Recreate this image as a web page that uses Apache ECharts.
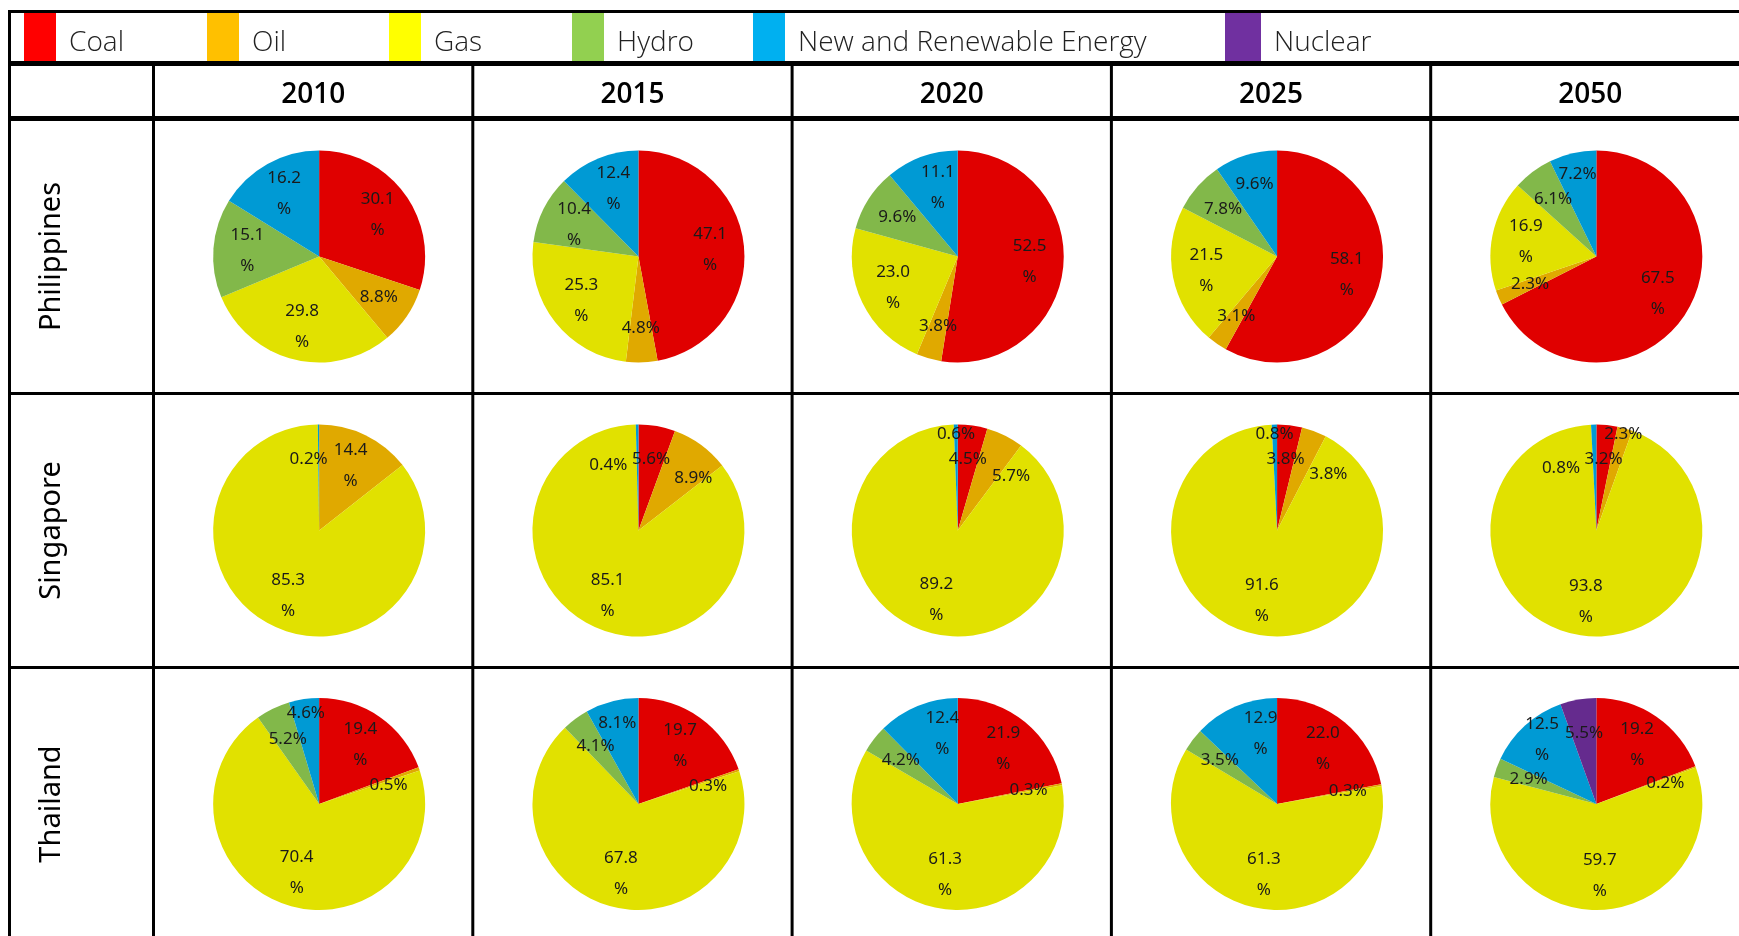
<!DOCTYPE html>
<html>
<head>
<meta charset="utf-8">
<script src="https://cdn.jsdelivr.net/npm/echarts@6/dist/echarts.min.js"></script>
<style>
  html, body { margin: 0; padding: 0; background: #fff; }
  #chart { width: 1739px; height: 936px; }
</style>
</head>
<body>
<div id="chart"></div>
<script>
// ---- data -------------------------------------------------------------
const years = ['2010', '2015', '2020', '2025', '2050'];
const countries = ['Philippines', 'Singapore', 'Thailand'];
const fuels = ['Coal', 'Oil', 'Gas', 'Hydro', 'New and Renewable Energy', 'Nuclear'];

// Power generation mix (%), one row per year, columns in the order of `fuels`
const philippinesShare = [
  [30.1, 8.8, 29.8, 15.1, 16.2, 0],
  [47.1, 4.8, 25.3, 10.4, 12.4, 0],
  [52.5, 3.8, 23.0, 9.6, 11.1, 0],
  [58.1, 3.1, 21.5, 7.8, 9.6, 0],
  [67.5, 2.3, 16.9, 6.1, 7.2, 0]
];
const singaporeShare = [
  [0, 14.4, 85.3, 0, 0.2, 0],
  [5.6, 8.9, 85.1, 0, 0.4, 0],
  [4.5, 5.7, 89.2, 0, 0.6, 0],
  [3.8, 3.8, 91.6, 0, 0.8, 0],
  [3.2, 2.3, 93.8, 0, 0.8, 0]
];
const thailandShare = [
  [19.4, 0.5, 70.4, 5.2, 4.6, 0],
  [19.7, 0.3, 67.8, 4.1, 8.1, 0],
  [21.9, 0.3, 61.3, 4.2, 12.4, 0],
  [22.0, 0.3, 61.3, 3.5, 12.9, 0],
  [19.2, 0.2, 59.7, 2.9, 12.5, 5.5]
];
const shareByCountry = [philippinesShare, singaporeShare, thailandShare];

// ---- styling & layout --------------------------------------------------
const sliceColors  = ['#E00000', '#E0A900', '#E1E100', '#82B84A', '#009AD4', '#652B8E'];
const legendColors = ['#FF0000', '#FFC000', '#FFFF00', '#92D050', '#00B0F0', '#7030A0'];
const legendLeft   = [24, 207, 389, 572, 753, 1225];

const W = 1739, H = 936;
const FONT = '"Noto Sans", "Open Sans", sans-serif';
const HEAD_FONT = '"Open Sans", "Noto Sans", sans-serif';
const colLine = 152, colW = 319.3;        // first column divider and column pitch
const rowCenters = [256.5, 530.5, 804];    // vertical centres of the three country rows
const PIE_R = 106;
const LABEL_R = 72;
const colCenter = i => colLine + 1.5 + colW * (i + 0.5);

// Candidate label displacements (angle in degrees, extra radius in px), cheapest first
const candidates = [];
for (let da = -40; da <= 40; da += 2) {
  for (let dr = 0; dr <= 36; dr += 4) candidates.push({ da, dr, cost: Math.abs(da) + dr });
}
candidates.sort((a, b) => a.cost - b.cost);

// Places the data labels of one pie on a ring inside the pie, nudging a label
// around the ring (or outward) when it would collide with one already placed.
function labelPlacer(cx, cy) {
  let placed = [];
  const insetY = 4, gap = 2;
  const boxAt = (x, y, w, h) => ({ x: x - w / 2 - gap, y: y - h / 2 + insetY, w: w + 2 * gap, h: h - 2 * insetY });
  const hit = (a, b) => a.x < b.x + b.w && b.x < a.x + a.w && a.y < b.y + b.h && b.y < a.y + a.h;
  return function (p) {
    if (p.dataIndex === 0) placed = [];
    const r = p.labelRect;
    const w = r.width, h = r.height;
    const base = Math.atan2(r.x + w / 2 - cx, -(r.y + h / 2 - cy));
    let best = null;
    for (const c of candidates) {
      const a = base + c.da * Math.PI / 180;
      const rr = LABEL_R + c.dr;
      const x = cx + rr * Math.sin(a), y = cy - rr * Math.cos(a);
      const box = boxAt(x, y, w, h);
      if (!placed.some(b => hit(box, b))) { best = { x, y, box }; break; }
    }
    if (!best) {
      const x = cx + LABEL_R * Math.sin(base), y = cy - LABEL_R * Math.cos(base);
      best = { x, y, box: boxAt(x, y, w, h) };
    }
    placed.push(best.box);
    return { x: best.x, y: best.y };
  };
}

// ---- series: one pie per country / year cell ---------------------------
const series = [];
shareByCountry.forEach((rows, ci) => {
  rows.forEach((shares, yi) => {
    const cx = colCenter(yi) + 6, cy = rowCenters[ci];
    const data = [];
    shares.forEach((v, fi) => {
      if (v > 0) data.push({ name: fuels[fi], value: v, itemStyle: { color: sliceColors[fi] } });
    });
    series.push({
      type: 'pie',
      name: countries[ci] + ' ' + years[yi],
      center: [cx, cy],
      radius: [0, PIE_R],
      startAngle: 90,
      clockwise: true,
      animation: false,
      avoidLabelOverlap: false,
      emphasis: { scale: false },
      label: {
        show: true,
        position: 'inside',
        fontFamily: FONT,
        fontSize: 17,
        lineHeight: 31,
        color: '#1a1a1a',
        formatter: p => p.value >= 10 ? p.value.toFixed(1) + '\n%' : p.value.toFixed(1) + '%'
      },
      labelLine: { show: false },
      labelLayout: labelPlacer(cx, cy),
      data: data
    });
  });
});

// ---- table rules, headings and row names -------------------------------
const rule = (x, y, w, h) => ({
  type: 'rect', silent: true,
  shape: { x: x, y: y, width: w, height: h },
  style: { fill: '#000' }
});
const graphics = [
  rule(8, 10, W - 8, 3),      // top edge
  rule(8, 61, W - 8, 5),      // below legend
  rule(8, 116, W - 8, 5),     // below year header
  rule(8, 392, W - 8, 3),
  rule(8, 666, W - 8, 3),
  rule(8, 10, 3, H - 10)      // left edge
];
for (let i = 0; i < years.length; i++) graphics.push(rule(colLine + colW * i, 61, 3, H - 61));

years.forEach((y, i) => graphics.push({
  type: 'text', silent: true,
  x: colCenter(i), y: 95,
  style: {
    text: y, align: 'center', verticalAlign: 'middle',
    font: '600 28px ' + HEAD_FONT, fill: '#000'
  }
}));
countries.forEach((c, i) => graphics.push({
  type: 'text', silent: true,
  x: 51.5, y: rowCenters[i],
  rotation: Math.PI / 2,
  style: {
    text: c, align: 'center', verticalAlign: 'middle',
    font: '29px ' + FONT, fill: '#000'
  }
}));

// ---- legend: one block per fuel along the top strip ---------------------
const legends = fuels.map((name, i) => ({
  data: [{ name: name, itemStyle: { color: legendColors[i] } }],
  left: legendLeft[i],
  top: 13,
  padding: 0,
  icon: 'rect',
  itemWidth: i === 5 ? 36 : 32,
  itemHeight: 48,
  selectedMode: false,
  formatter: n => '{t|' + n + '}',
  textStyle: {
    rich: {
      t: {
        fontFamily: HEAD_FONT, fontSize: 28, fontWeight: 300, color: '#222',
        padding: [12, 0, 0, 8]
      }
    }
  }
}));

const chart = echarts.init(document.getElementById('chart'), null, { renderer: 'canvas' });
chart.setOption({
  backgroundColor: '#fff',
  animation: false,
  legend: legends,
  graphic: graphics,
  series: series
});
</script>
</body>
</html>
